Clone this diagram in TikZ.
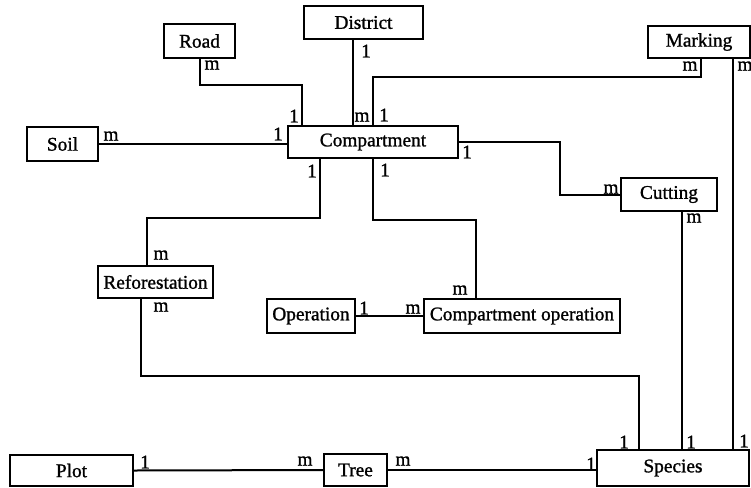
\documentclass[tikz,border=0pt]{standalone}
\usepackage{fontspec}
\setmainfont{Liberation Serif}
\newfontfamily\heavyserif{Liberation Serif}[FakeBold=1.2]
\usetikzlibrary{calc}
\begin{document}
\begin{tikzpicture}[x=0.75pt,y=-0.75pt,
  ent/.style={draw=black, line width=1.5pt, inner sep=0pt, fill=white,
    font=\heavyserif\fontsize{14.5}{16}\selectfont},
  wh/.style 2 args={minimum width=#1*0.75pt, minimum height=#2*0.75pt},
  rel/.style={draw=black, line width=1.5pt},
  card/.style={inner sep=0pt, font=\heavyserif\fontsize{14.5}{16}\selectfont}]
\useasboundingbox (0,0) rectangle (751,487);

% entities
\node[ent, wh={71}{34}]  (road)     at (199.5,41)  {Road};
\node[ent, wh={119}{33}] (district) at (363.5,22.5){District};
\node[ent, wh={102}{32}] (marking)  at (699,42)    {Marking};
\node[ent, wh={71}{34}]  (soil)     at (62.5,144)  {Soil};
\node[ent, wh={170}{32}] (comp)     at (373,142)   {Compartment};
\node[ent, wh={96}{33}]  (cutting)  at (669,194.5) {Cutting};
\node[ent, wh={115}{32}] (refo)     at (155.5,282) {Reforestation};
\node[ent, wh={88}{34}]  (oper)     at (311,316)   {Operation};
\node[ent, wh={196}{34}] (compop)   at (522,316)   {Compartment operation};
\node[ent, wh={123}{31}] (plot)     at (71.5,470.5){Plot};
\node[ent, wh={63}{32}]  (tree)     at (355.5,470) {Tree};
\node[ent, wh={152}{36}] (species)  at (673,468)   {Species};

% helper coordinates
\coordinate (dt) at ($(comp.north west)+(66,0)$);
\coordinate (ms) at ($(marking.south west)+(86,0)$);
\coordinate (cs) at ($(cutting.south west)+(62,0)$);

% relationships
\draw[rel] (road.south) |- ($(comp.north west)+(15,-40)$) -- ($(comp.north west)+(15,0)$);
\draw[rel] (dt) -- (dt |- district.south);
\draw[rel] (comp.north) |- ($(marking.south west)+(54,18)$) -- ($(marking.south west)+(54,0)$);
\draw[rel] (ms) -- (ms |- species.north);
\draw[rel] (soil.east) -- (soil.east -| comp.west);
\draw[rel] (comp.east) -- ++(101,0) |- (cutting.west);
\draw[rel] ($(comp.south west)+(33,0)$) |- ($(refo.north west)+(50,-47)$) -- ($(refo.north west)+(50,0)$);
\draw[rel] (comp.south) |- ($(compop.north west)+(53,-78)$) -- ($(compop.north west)+(53,0)$);
\draw[rel] (oper.east) -- (compop.west);
\draw[rel] ($(refo.south west)+(44,0)$) |- ($(species.north west)+(43,-73)$) -- ($(species.north west)+(43,0)$);
\draw[rel] (cs) -- (cs |- species.north);
\draw[rel] (plot.east) -- (tree.west);
\draw[rel] (tree.east) -- (tree.east -| species.west);

% cardinalities
\node[card] (c1)  at (212,65)  {m};
\node[card] (c2)  at (294,116) {1};
\node[card] (c3)  at (366,51)  {1};
\node[card] (c4)  at (362,117) {m};
\node[card] (c5)  at (384,115) {1};
\node[card] (c6)  at (690,66)  {m};
\node[card] (c7)  at (745,66)  {m};
\node[card] (c8)  at (744,441) {1};
\node[card] (c9)  at (111,136) {m};
\node[card] (c10) at (278,134) {1};
\node[card] (c11) at (467,152) {1};
\node[card] (c12) at (611,189) {m};
\node[card] (c13) at (312,171) {1};
\node[card] (c14) at (161,255) {m};
\node[card] (c15) at (385,170) {1};
\node[card] (c16) at (460,290) {m};
\node[card] (c17) at (364,308) {1};
\node[card] (c18) at (413,309) {m};
\node[card] (c19) at (161,307) {m};
\node[card] (c20) at (624,442) {1};
\node[card] (c21) at (694,218) {m};
\node[card] (c22) at (691,442) {1};
\node[card] (c23) at (145,462) {1};
\node[card] (c24) at (305,461) {m};
\node[card] (c25) at (403,461) {m};
\node[card] (c26) at (591,464) {1};
\end{tikzpicture}
\end{document}
